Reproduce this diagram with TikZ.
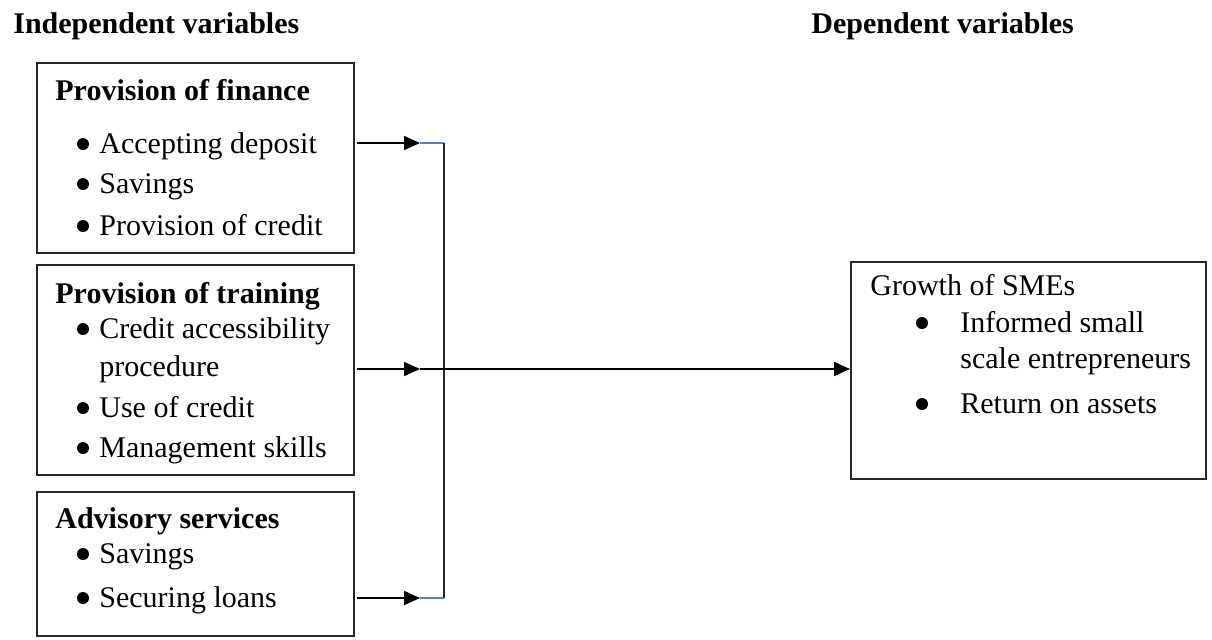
\documentclass[tikz,border=0pt]{standalone}
\usepackage{fontspec}
\setmainfont{Liberation Serif}
\usetikzlibrary{arrows.meta,fit}
\definecolor{BoxLine}{RGB}{40,40,40}
\definecolor{LinkBlue}{RGB}{84,130,197}

\begin{document}
\begin{tikzpicture}[x=0.5pt, y=-0.5pt, font=\fontsize{15}{18}\selectfont,
    box/.style={draw=BoxLine, line width=1pt, inner sep=0pt},
    head/.style={anchor=base west, inner sep=0pt, font=\fontsize{15}{18}\selectfont\bfseries},
    txt/.style={anchor=base west, inner sep=0pt},
    dot/.style={circle, fill=black, inner sep=0pt, minimum size=6pt},
    arr/.style={-{Triangle[length=8pt,width=7pt]}, line width=0.8pt},
    link/.style={LinkBlue, line width=0.8pt}]
    \useasboundingbox (0,0) rectangle (1212,639);

    % Column titles
    \node[head] (indep) at (13,33) {Independent variables};
    \node[head] (dep) at (811,33) {Dependent variables};

    % Provision of finance
    \node[box, fit={(37,63) (354,253)}] (fin) {};
    \node[head] (finT) at (55,100) {Provision of finance};
    \node[dot] (finD1) at (83,144) {};
    \node[txt] (finL1) at (99,153) {Accepting deposit};
    \node[dot] (finD2) at (83,184) {};
    \node[txt] (finL2) at (99,193) {Savings};
    \node[dot] (finD3) at (83,226) {};
    \node[txt] (finL3) at (99,235) {Provision of credit};

    % Provision of training
    \node[box, fit={(37,265) (354,475)}] (train) {};
    \node[head] (trainT) at (55,303) {Provision of training};
    \node[dot] (trainD1) at (83,329) {};
    \node[txt] (trainL1) at (99,338) {Credit accessibility};
    \node[txt] (trainL1b) at (99,376) {procedure};
    \node[dot] (trainD2) at (83,408) {};
    \node[txt] (trainL2) at (99,417) {Use of credit};
    \node[dot] (trainD3) at (83,448) {};
    \node[txt] (trainL3) at (99,457) {Management skills};

    % Advisory services
    \node[box, fit={(37,492) (354,636)}] (adv) {};
    \node[head] (advT) at (55,528) {Advisory services};
    \node[dot] (advD1) at (83,554) {};
    \node[txt] (advL1) at (99,563) {Savings};
    \node[dot] (advD2) at (83,598) {};
    \node[txt] (advL2) at (99,607) {Securing loans};

    % Growth of SMEs
    \node[box, fit={(851,262) (1206,479)}] (sme) {};
    \node[txt] (smeT) at (870,295) {Growth of SMEs};
    \node[dot] (smeD1) at (922,323) {};
    \node[txt] (smeL1) at (960,332) {Informed small};
    \node[txt] (smeL1b) at (960,368) {scale entrepreneurs};
    \node[dot] (smeD2) at (922,404) {};
    \node[txt] (smeL2) at (960,413) {Return on assets};

    % Arrow rows and bus
    \coordinate (in1) at (357,143);
    \coordinate (in2) at (357,369);
    \coordinate (in3) at (357,598);
    \coordinate (tips) at (420,0);
    \coordinate (bus) at (444,0);

    \draw[arr] (in1) -- (in1 -| tips);
    \draw[link] (in1 -| tips) -- (in1 -| bus);
    \draw[arr] (in2) -- (in2 -| tips);
    \draw[arr] (in3) -- (in3 -| tips);
    \draw[link] (in3 -| tips) -- (in3 -| bus);
    \draw[BoxLine, line width=0.9pt] (in1 -| bus) -- (in3 -| bus);
    \draw[arr] (in2 -| tips) -- (in2 -| sme.west);
\end{tikzpicture}
\end{document}
